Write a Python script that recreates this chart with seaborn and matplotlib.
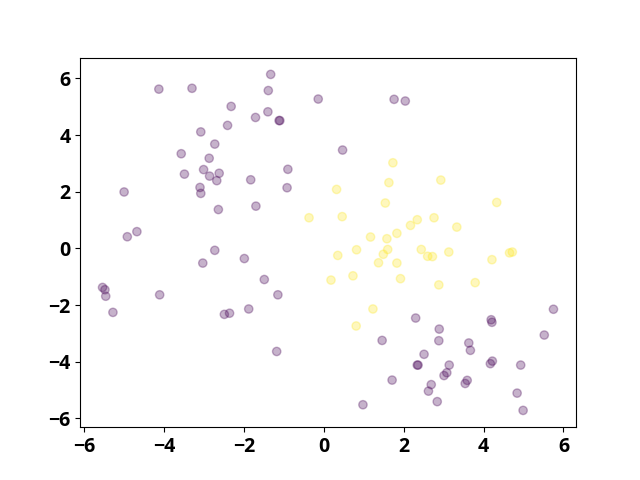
import numpy as np
import pandas as pd
import matplotlib
matplotlib.use("Agg")
import matplotlib.pyplot as plt
import seaborn as sns

# purple class (label 0)
x0 = [-1.33, -4.13, -3.30, -1.39, -0.14, -2.32, -1.71, -1.40, -1.12, -1.10,
      -2.41, -3.08, -2.73, -3.57, -2.87, -0.90, -3.01, -3.49, -2.86, -2.62,
      -2.68, -1.83, -0.92, -3.10, -3.08, -5.00, -2.64, -1.70, -4.68, -4.92,
      1.76, 2.04, 0.47,
      2.30, 2.89, 4.19, 4.21, 5.75, 5.52, 1.46, 2.88, 3.63, 3.67, 2.51,
      2.34, 2.36, 3.14, 4.17, 4.22, 4.93, 3.08, 3.01, 3.59, 3.54, 1.71,
      2.69, 2.62, 4.84, 2.84, 0.98, 4.99,
      -2.73, -3.03, -1.99, -1.49, -5.54, -5.48, -5.46, -4.11, -1.15, -5.28,
      -2.49, -2.36, -1.88, -1.18]
y0 = [6.14, 5.62, 5.65, 5.57, 5.27, 5.01, 4.62, 4.82, 4.51, 4.51,
      4.34, 4.11, 3.68, 3.34, 3.18, 2.79, 2.78, 2.62, 2.55, 2.65,
      2.39, 2.42, 2.14, 2.15, 1.94, 1.99, 1.37, 1.49, 0.59, 0.41,
      5.26, 5.20, 3.47,
      -2.46, -2.85, -2.52, -2.61, -2.15, -3.06, -3.25, -3.26, -3.34, -3.60, -3.74,
      -4.12, -4.12, -4.12, -4.07, -3.98, -4.12, -4.39, -4.49, -4.66, -4.77, -4.65,
      -4.81, -5.04, -5.11, -5.41, -5.52, -5.72,
      -0.07, -0.52, -0.36, -1.10, -1.38, -1.46, -1.69, -1.64, -1.64, -2.26,
      -2.33, -2.29, -2.14, -3.64]

# yellow class (label 1)
x1 = [-0.37, 1.73, 1.63, 2.93, 0.32, 1.54, 4.33, 0.46, 2.34, 2.76,
      2.17, 3.33, 1.83, 1.17, 1.58, 0.35, 0.82, 1.60, 1.49, 2.44,
      2.60, 2.72, 3.13, 1.37, 1.83, 4.21, 4.65, 4.72, 0.18, 0.73,
      1.92, 2.88, 3.79, 1.23, 0.81]
y1 = [1.08, 3.02, 2.32, 2.41, 2.08, 1.60, 1.62, 1.12, 1.01, 1.08,
      0.81, 0.75, 0.53, 0.40, 0.34, -0.25, -0.05, -0.04, -0.21, -0.04,
      -0.28, -0.29, -0.13, -0.51, -0.52, -0.40, -0.16, -0.13, -1.12, -0.97,
      -1.07, -1.29, -1.21, -2.14, -2.74]

df = pd.DataFrame({
    "x": x0 + x1,
    "y": y0 + y1,
    "label": [0] * len(x0) + [1] * len(x1),
})

plt.rcParams["font.family"] = ["Open Sans", "DejaVu Sans"]
plt.rcParams["font.weight"] = "bold"
plt.rcParams["font.size"] = 14

fig, ax = plt.subplots(figsize=(6.4, 4.8), dpi=100)
vir = plt.get_cmap("viridis")
palette = {0: vir(0.0), 1: vir(1.0)}
sns.scatterplot(data=df, x="x", y="y", hue="label", palette=palette,
                alpha=0.3, s=36, edgecolor="face", linewidth=1,
                legend=False, ax=ax)
ax.set_xlabel("")
ax.set_ylabel("")
ax.set_xticks([-6, -4, -2, 0, 2, 4, 6])
ax.set_yticks([-6, -4, -2, 0, 2, 4, 6])

fig.savefig("out.png", dpi=100)
